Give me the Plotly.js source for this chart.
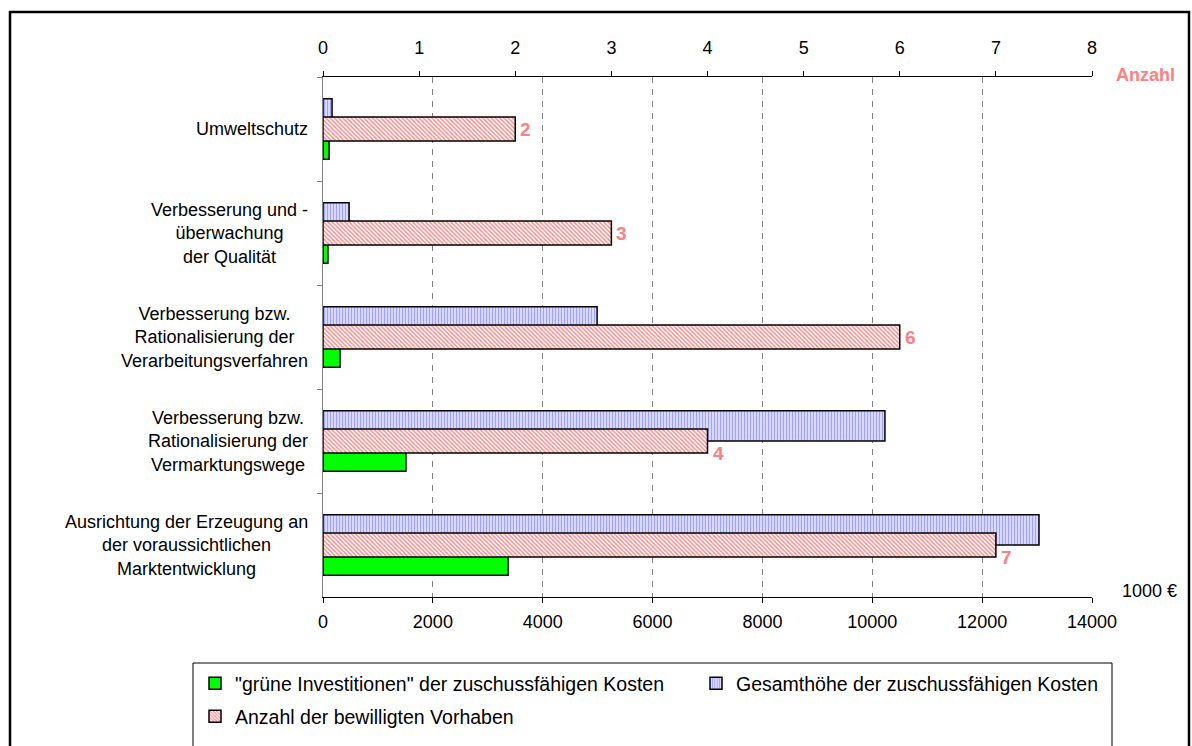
<!DOCTYPE html>
<html>
<head>
<meta charset="utf-8">
<script src="https://cdn.plot.ly/plotly-3.0.1.min.js"></script>
<style>html,body{margin:0;padding:0;background:#fff;}#chart{width:1192px;height:746px;}</style>
</head>
<body>
<div id="chart"></div>
<script>
// ---- data ----
const categoryLines = [
  ['Umweltschutz'],
  ['Verbesserung und -', 'überwachung', 'der Qualität'],
  ['Verbesserung bzw.', 'Rationalisierung der', 'Verarbeitungsverfahren'],
  ['Verbesserung bzw.', 'Rationalisierung der', 'Vermarktungswege'],
  ['Ausrichtung der Erzeugung an', 'der voraussichtlichen', 'Marktentwicklung']
];
const categories = categoryLines.map(l => l.join(' '));
const grueneInvest = [110, 90, 310, 1510, 3370];      // 1000 €
const gesamtKosten = [165, 475, 4990, 10230, 13035];  // 1000 €
const anzahlVorhaben = [2, 3, 6, 4, 7];               // Anzahl
const seriesNames = ['"grüne Investitionen" der zuschussfähigen Kosten', 'Gesamthöhe der zuschussfähigen Kosten', 'Anzahl der bewilligten Vorhaben'];
const topTicks = [0, 1, 2, 3, 4, 5, 6, 7, 8];
const bottomTicks = [0, 2000, 4000, 6000, 8000, 10000, 12000, 14000];

// ---- style ----
const FONT = 'Liberation Sans, Arial, sans-serif';
const L = 323, R = 1092, T = 77, B = 597, W = 1192, H = 746;
const PW = R - L, PH = B - T;
const px = v => (v - L) / PW;
const py = v => (B - v) / PH;
const countLabelYShift = [0, 0, 0, -12, -12];

const traces = [
  {
    type: 'bar', orientation: 'h', name: seriesNames[0],
    x: grueneInvest, y: categories, xaxis: 'x', yaxis: 'y',
    width: 0.29, offset: 0,
    marker: {color: '#00FF00', line: {color: '#000', width: 1.5}},
    legend: 'legend', hoverinfo: 'x'
  },
  {
    type: 'bar', orientation: 'h', name: seriesNames[1],
    x: gesamtKosten, y: categories, xaxis: 'x', yaxis: 'y',
    width: 0.29, offset: -0.29,
    marker: {color: '#D0D0FF', line: {color: '#000', width: 1.5},
      pattern: {shape: '|', bgcolor: '#DADAFF', fgcolor: '#9A9AFF', size: 3, solidity: 0.3}},
    legend: 'legend', hoverinfo: 'x'
  },
  {
    type: 'bar', orientation: 'h', name: seriesNames[2],
    x: anzahlVorhaben, y: categories, xaxis: 'x2', yaxis: 'y',
    width: 0.232, offset: -0.116,
    marker: {color: '#FFC0C0', line: {color: '#000', width: 1.5},
      pattern: {shape: '\\', bgcolor: '#FFFFFF', fgcolor: '#FF8080', size: 3, solidity: 0.45}},
    legend: 'legend2', hoverinfo: 'x'
  }
];

const annotations = [];
categoryLines.forEach((lines, i) => {
  annotations.push({
    x: 0, xref: 'x', y: categories[i], yref: 'y', xanchor: 'right', yanchor: 'middle',
    xshift: -13, text: lines.join('<br>'), align: 'center', showarrow: false,
    font: {family: FONT, size: 18, color: '#000'}
  });
  annotations.push({
    x: anzahlVorhaben[i], xref: 'x2', y: categories[i], yref: 'y', xanchor: 'left', yanchor: 'middle',
    xshift: 3, yshift: countLabelYShift[i], text: String(anzahlVorhaben[i]), showarrow: false,
    font: {family: FONT, size: 19, color: '#FF8080', weight: 'bold'}
  });
});
annotations.push({
  x: px(1114), xref: 'paper', y: py(75), yref: 'paper', xanchor: 'left', yanchor: 'middle',
  text: '<b>Anzahl</b>', showarrow: false, font: {family: FONT, size: 18, color: '#FF8080'}
});
annotations.push({
  x: px(1120), xref: 'paper', y: py(591), yref: 'paper', xanchor: 'left', yanchor: 'middle',
  text: '1000 €', showarrow: false, font: {family: FONT, size: 18, color: '#000'}
});

const shapes = [
  {type: 'rect', xref: 'paper', yref: 'paper', x0: px(10), x1: px(1189), y0: py(12), y1: py(770),
   line: {color: '#000', width: 2.5}, fillcolor: 'rgba(0,0,0,0)', layer: 'below'},
  {type: 'rect', xref: 'paper', yref: 'paper', x0: px(193), x1: px(1112), y0: py(663), y1: py(770),
   line: {color: '#000', width: 1}, fillcolor: 'rgba(0,0,0,0)', layer: 'below'}
];

const layout = {
  width: W, height: H,
  margin: {l: L, r: W - R, t: T, b: H - B, autoexpand: false},
  paper_bgcolor: '#fff', plot_bgcolor: '#fff',
  font: {family: FONT, size: 18, color: '#000'},
  barmode: 'overlay',
  showlegend: true,
  xaxis: {
    domain: [0, 1], anchor: 'y', side: 'bottom', range: [0, 14000],
    tickvals: bottomTicks, ticktext: bottomTicks.map(String),
    ticks: 'outside', ticklen: 5, tickcolor: '#000', showline: true, linecolor: '#000', linewidth: 1,
    showgrid: true, gridcolor: '#808080', gridwidth: 1, griddash: '6px,6px', zeroline: false,
    tickfont: {family: FONT, size: 18, color: '#000'}, ticklabelstandoff: 3, fixedrange: true
  },
  xaxis2: {
    overlaying: 'x', anchor: 'y', side: 'top', range: [0, 8],
    tickvals: topTicks, ticktext: topTicks.map(String),
    ticks: 'outside', ticklen: 5, tickcolor: '#000', showline: true, linecolor: '#000', linewidth: 1,
    showgrid: false, zeroline: false,
    tickfont: {family: FONT, size: 18, color: '#000'}, ticklabelstandoff: 10, fixedrange: true
  },
  xaxis3: {
    overlaying: 'x', anchor: 'y', side: 'top', range: [0, 8],
    tickvals: topTicks, ticks: 'inside', ticklen: 5, tickcolor: '#000',
    showticklabels: false, showline: false, showgrid: false, zeroline: false, fixedrange: true
  },
  yaxis: {
    type: 'category', categoryorder: 'array', categoryarray: categories,
    range: [4.5, -0.5], showticklabels: false,
    ticks: 'outside', ticklen: 5, tickcolor: '#808080', tickson: 'boundaries',
    showline: true, linecolor: '#808080', linewidth: 1.5, showgrid: false, zeroline: false, fixedrange: true
  },
  legend: {
    orientation: 'h', x: px(195), y: py(664), xanchor: 'left', yanchor: 'top',
    entrywidth: 456, entrywidthmode: 'pixels', bgcolor: 'rgba(0,0,0,0)', borderwidth: 0,
    font: {family: FONT, size: 19.5, color: '#000'}, traceorder: 'normal'
  },
  legend2: {
    orientation: 'h', x: px(195), y: py(697), xanchor: 'left', yanchor: 'top',
    bgcolor: 'rgba(0,0,0,0)', borderwidth: 0,
    font: {family: FONT, size: 19.5, color: '#000'}
  },
  annotations: annotations,
  shapes: shapes
};

Plotly.newPlot('chart', traces, layout, {displayModeBar: false, staticPlot: true});
</script>
</body>
</html>
